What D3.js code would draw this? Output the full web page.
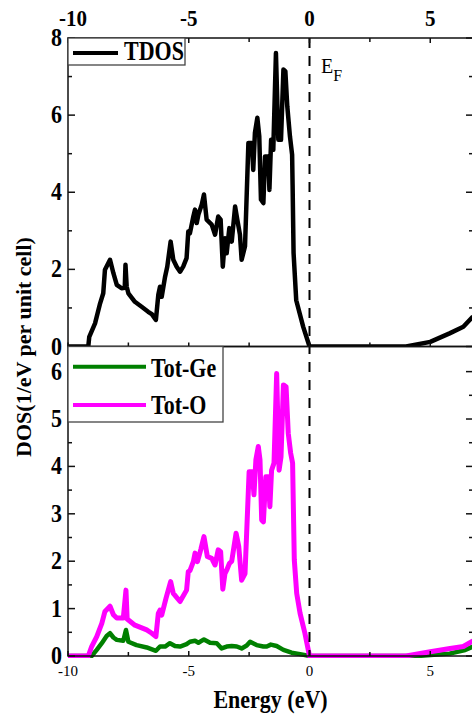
<!DOCTYPE html>
<html>
<head>
<meta charset="utf-8">
<script src="https://cdn.jsdelivr.net/npm/d3@7"></script>
<style>
  html, body { margin: 0; padding: 0; background: #fff; }
  svg { display: block; }
  text { font-family: "Liberation Serif", "Times New Roman", serif; fill: #000; }
</style>
</head>
<body>
<svg id="chart" width="472" height="718"></svg>
<script>
// ---------------- DATA ----------------
const tdosEnergy = [-10, -9.16, -9.12, -8.88, -8.67, -8.54, -8.47, -8.26, -8.12, -7.98, -7.78, -7.65, -7.62, -7.57, -7.50,
  -7.23, -6.95, -6.68, -6.53, -6.36, -6.26, -6.19, -6.12, -5.98, -5.89, -5.75, -5.64, -5.50, -5.36, -5.23,
  -5.09, -5.02, -4.95, -4.81, -4.74, -4.67, -4.60, -4.46, -4.37, -4.26, -4.05, -3.91, -3.78, -3.68, -3.59,
  -3.50, -3.43, -3.32, -3.22, -3.08, -2.99, -2.88, -2.81, -2.67, -2.53, -2.39, -2.33, -2.26, -2.16, -2.08,
  -2.01, -1.91, -1.84, -1.71, -1.66, -1.59, -1.50, -1.39, -1.29, -1.18, -1.08, -1.00, -0.92, -0.81, -0.72,
  -0.70, -0.66, -0.55, -0.26, 0, 4.0, 5.0, 5.8, 6.37, 6.77];
const tdosValues = [0, 0, 0.25, 0.6, 1.12, 1.38, 1.99, 2.25, 1.9, 1.6, 1.51, 1.52, 2.12, 1.55, 1.38,
  1.16, 1.03, 0.9, 0.84, 0.69, 1.34, 1.55, 1.29, 1.81, 2.07, 2.72, 2.25, 2.07, 1.94, 2.07,
  2.29, 2.98, 2.94, 3.37, 3.55, 3.2, 3.42, 3.68, 3.94, 3.29, 3.16, 2.9, 3.37, 3.29, 2.07,
  2.81, 2.42, 3.07, 2.72, 3.63, 3.29, 2.9, 2.25, 2.6, 5.28, 5.28, 4.58, 5.54, 5.93, 5.45,
  3.81, 3.72, 4.93, 4.93, 4.06, 5.36, 5.1, 7.61, 5.36, 5.36, 7.18, 7.14, 6.23, 5.45, 4.97,
  4.2, 2.43, 1.2, 0.51, 0, 0, 0.12, 0.34, 0.51, 0.78];

const geEnergy = [-10, -9.02, -8.81, -8.6, -8.4, -8.26, -8.12, -7.98, -7.71, -7.6, -7.5, -7.16, -6.74, -6.36, -6.19,
  -5.98, -5.78, -5.57, -5.36, -5.09, -4.95, -4.74, -4.6, -4.37, -4.12, -3.84, -3.64, -3.43, -3.22, -3.01,
  -2.81, -2.6, -2.46, -2.19, -1.91, -1.77, -1.6, -1.36, -1.08, -0.74, -0.39, 0, 4.5, 5.8, 6.4, 6.77];
const geValues = [0, 0, 0.13, 0.27, 0.42, 0.48, 0.39, 0.34, 0.32, 0.55, 0.3, 0.23, 0.18, 0.11, 0.2,
  0.2, 0.27, 0.21, 0.2, 0.25, 0.3, 0.32, 0.28, 0.35, 0.28, 0.27, 0.16, 0.2, 0.21, 0.2,
  0.16, 0.22, 0.3, 0.23, 0.2, 0.2, 0.24, 0.21, 0.13, 0.07, 0.04, 0, 0, 0.05, 0.12, 0.2];

const oEnergy = [-10, -9.16, -9.02, -8.81, -8.6, -8.47, -8.26, -8.12, -7.98, -7.71, -7.6, -7.55, -7.5, -7.23, -6.74,
  -6.53, -6.36, -6.26, -6.19, -6.12, -5.94, -5.75, -5.64, -5.36, -5.09, -5.02, -4.95, -4.81, -4.74, -4.64,
  -4.5, -4.37, -4.23, -4.05, -3.91, -3.78, -3.68, -3.59, -3.5, -3.43, -3.32, -3.22, -3.04, -2.93, -2.81,
  -2.67, -2.5, -2.37, -2.30, -2.22, -2.12, -2.05, -1.98, -1.91, -1.81, -1.71, -1.64, -1.57, -1.47, -1.36,
  -1.26, -1.18, -1.08, -0.97, -0.88, -0.78, -0.70, -0.63, -0.53, -0.39, -0.19, 0, 4.0, 5.0, 5.82, 6.37, 6.77];
const oValues = [0, 0, 0.2, 0.41, 0.69, 0.94, 1.05, 0.87, 0.8, 0.8, 1.39, 0.78, 0.76, 0.65, 0.55,
  0.48, 0.41, 0.9, 0.97, 0.86, 1.22, 1.57, 1.32, 1.15, 1.39, 1.78, 1.8, 1.99, 2.17, 1.99,
  2.25, 2.52, 2.1, 2.06, 1.92, 2.24, 2.2, 1.41, 1.74, 1.81, 1.95, 2.0, 2.59, 2.31, 1.6,
  1.74, 3.89, 3.89, 3.4, 4.14, 4.42, 4.14, 2.87, 2.83, 3.78, 3.78, 3.15, 3.92, 4.07, 5.96,
  3.92, 4.2, 5.72, 5.68, 4.7, 4.28, 4.07, 2.03, 1.32, 0.9, 0.48, 0, 0, 0.09, 0.16, 0.2, 0.32];

const xMajorTicks = [-10, -5, 0, 5];
const xMinorTicks = [-7.5, -2.5, 2.5];
const topYMajor = [0, 2, 4, 6, 8];
const topYMinor = [1, 3, 5, 7];
const botYMajor = [0, 1, 2, 3, 4, 5, 6];
const botYMinor = [0.5, 1.5, 2.5, 3.5, 4.5, 5.5];

const xLabel = "Energy (eV)";
const yLabel = "DOS(1/eV per unit cell)";
const seriesNames = ["TDOS", "Tot-Ge", "Tot-O"];
const seriesColors = ["#000000", "#008000", "#ff00ff"];

// ---------------- LAYOUT ----------------
const L = 68, R = 473, T = 38, M = 346.5, B = 656;
const SY = 1.15; // vertical stretch of glyphs

const svg = d3.select("#chart");
const x = d3.scaleLinear().domain([-10, 6.77]).range([L, R]);
const yTop = d3.scaleLinear().domain([0, 8]).range([M, T]);
const yBot = d3.scaleLinear().domain([0, 6.53]).range([B, M]);

const defs = svg.append("defs");
defs.append("clipPath").attr("id", "clipTop").append("rect")
  .attr("x", L).attr("y", T - 2).attr("width", R - L).attr("height", M - T + 2);
defs.append("clipPath").attr("id", "clipBot").append("rect")
  .attr("x", L).attr("y", M).attr("width", R - L).attr("height", B - M + 2);

function text(g, px, py, str, size, weight, anchor, sy) {
  return g.append("text")
    .attr("transform", `translate(${px},${py}) scale(1,${sy || SY})`)
    .attr("font-size", size)
    .attr("font-weight", weight || "bold")
    .attr("text-anchor", anchor || "start")
    .text(str);
}

const zip = (E, V) => E.map((e, i) => [e, V[i]]);

// ---------------- CURVES ----------------
const lineTop = d3.line().x(d => x(d[0])).y(d => yTop(d[1]));
const lineBot = d3.line().x(d => x(d[0])).y(d => yBot(d[1]));

svg.append("g").attr("clip-path", "url(#clipTop)")
  .append("path")
  .attr("d", lineTop(zip(tdosEnergy, tdosValues)))
  .attr("fill", "none").attr("stroke", seriesColors[0])
  .attr("stroke-width", 4.5).attr("stroke-linejoin", "round");

const gb = svg.append("g").attr("clip-path", "url(#clipBot)");
gb.append("path")
  .attr("d", lineBot(zip(geEnergy, geValues)))
  .attr("fill", "none").attr("stroke", seriesColors[1])
  .attr("stroke-width", 4.5).attr("stroke-linejoin", "round");
gb.append("path")
  .attr("d", lineBot(zip(oEnergy, oValues)))
  .attr("fill", "none").attr("stroke", seriesColors[2])
  .attr("stroke-width", 5).attr("stroke-linejoin", "round");

// Fermi level
svg.append("line")
  .attr("x1", x(0)).attr("x2", x(0)).attr("y1", T).attr("y2", B)
  .attr("stroke", "#000").attr("stroke-width", 2).attr("stroke-dasharray", "10,8");

// ---------------- AXES ----------------
const ax = svg.append("g").attr("stroke", "#111").attr("stroke-width", 1.5);
ax.append("rect").attr("x", L).attr("y", T).attr("width", R - L).attr("height", M - T).attr("fill", "none");
ax.append("rect").attr("x", L).attr("y", M).attr("width", R - L).attr("height", B - M).attr("fill", "none");

function xTicks(yPos, dir, vals, len) {
  vals.forEach(v => ax.append("line").attr("x1", x(v)).attr("x2", x(v))
    .attr("y1", yPos).attr("y2", yPos + dir * len));
}
function yTicks(scale, vals, len) {
  vals.forEach(v => {
    ax.append("line").attr("x1", L).attr("x2", L + len).attr("y1", scale(v)).attr("y2", scale(v));
    ax.append("line").attr("x1", R).attr("x2", R - len).attr("y1", scale(v)).attr("y2", scale(v));
  });
}
xTicks(T, 1, xMajorTicks, 5); xTicks(T, 1, xMinorTicks, 4);
xTicks(M, -1, xMajorTicks, 4); xTicks(M, -1, xMinorTicks, 4);
yTicks(yTop, topYMajor, 7); yTicks(yTop, topYMinor, 4);
xTicks(B, -1, xMajorTicks, 5); xTicks(B, -1, xMinorTicks, 4);
yTicks(yBot, botYMajor, 7); yTicks(yBot, botYMinor, 4);

// tick labels
const lab = svg.append("g");
xMajorTicks.forEach((v, i) => {
  text(lab, x(v) + (i === 0 ? 5 : 0), 26, String(v), 21, "bold", "middle", 1.1);
  text(lab, x(v), 676, String(v), 15, "normal", "middle", 1.0);
});
topYMajor.forEach(v => text(lab, 62, yTop(v) + 8, String(v), 22, "bold", "end", 1.1));
botYMajor.forEach(v => text(lab, 62, yBot(v) + 8, String(v), 22, "bold", "end", 1.1));

// axis titles
text(lab, (L + R) / 2, 708, xLabel, 22, "bold", "middle", 1.1);
lab.append("text")
  .attr("transform", `translate(31,${(T + B) / 2}) rotate(-90)`)
  .attr("font-size", 22).attr("font-weight", "bold").attr("text-anchor", "middle")
  .text(yLabel);

// E_F
const ef = lab.append("text")
  .attr("transform", `translate(321,73) scale(1,1.05)`)
  .attr("font-size", 20);
ef.append("tspan").text("E");
ef.append("tspan").attr("font-size", 16).attr("dy", 8).attr("dx", 0).text("F");

// ---------------- LEGENDS ----------------
const lg = svg.append("g");
lg.append("rect").attr("x", L).attr("y", T).attr("width", 117).attr("height", 27)
  .attr("fill", "#fff").attr("stroke", "#444").attr("stroke-width", 1.3);
lg.append("line").attr("x1", 73).attr("x2", 118).attr("y1", 53).attr("y2", 53)
  .attr("stroke", seriesColors[0]).attr("stroke-width", 4);
text(lg, 124, 60, seriesNames[0], 22, "bold", "start", 1.2);

lg.append("rect").attr("x", L).attr("y", M).attr("width", 155).attr("height", 75.5)
  .attr("fill", "#fff").attr("stroke", "#444").attr("stroke-width", 1.3);
lg.append("line").attr("x1", 73).attr("x2", 146).attr("y1", 366.7).attr("y2", 366.7)
  .attr("stroke", seriesColors[1]).attr("stroke-width", 4);
lg.append("line").attr("x1", 73).attr("x2", 146).attr("y1", 405).attr("y2", 405)
  .attr("stroke", seriesColors[2]).attr("stroke-width", 4);
text(lg, 151, 376.5, seriesNames[1], 22, "bold", "start", 1.2);
text(lg, 151, 413.5, seriesNames[2], 22, "bold", "start", 1.2);
</script>
</body>
</html>
